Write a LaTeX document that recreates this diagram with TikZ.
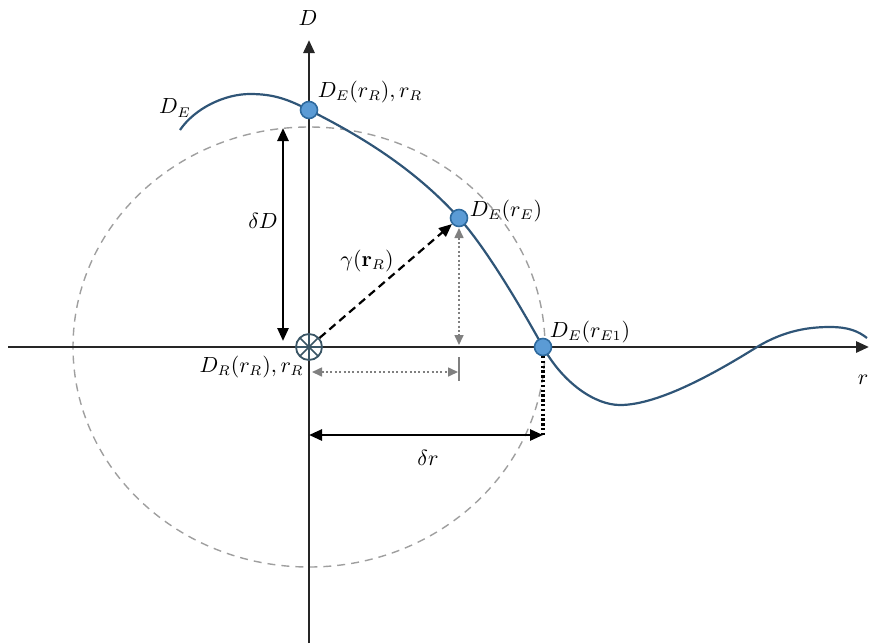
\documentclass[tikz,border=0pt]{standalone}
\usetikzlibrary{arrows.meta}
\definecolor{curveblue}{HTML}{2F5577}
\definecolor{dotblue}{HTML}{5B9BD5}
\definecolor{dotedge}{HTML}{2E6A9E}
\definecolor{spokecol}{HTML}{3A5565}
\begin{document}
\begin{tikzpicture}[x=0.5pt,y=-0.5pt,
  tip/.tip={Triangle[length=6.5pt,width=5.5pt]},
  axis/.style={line width=1.4pt,draw=black!85,-tip},
  curve/.style={line width=1.1pt,draw=curveblue},
  dot/.style={circle,fill=dotblue,draw=dotedge,line width=0.8pt,minimum size=8.5pt,inner sep=0pt},
  crossmark/.style={circle,draw=spokecol,fill=white,line width=0.9pt,minimum size=13pt,inner sep=0pt},
  spoke/.style={draw=spokecol,line width=0.8pt},
  lbl/.style={inner sep=1pt,font=\fontsize{10.5}{12}\selectfont},
  dimarrow/.style={line width=1.3pt,draw=black,tip-tip},
  grayarrow/.style={line width=0.8pt,draw=gray,dash pattern=on 1pt off 1.2pt,
     {Triangle[length=5pt,width=4.5pt,fill=gray]}-{Triangle[length=5pt,width=4.5pt,fill=gray]}},
  ring/.style={draw=gray!75,line width=0.7pt,dash pattern=on 4pt off 3pt},
  vecarrow/.style={line width=1.1pt,draw=black,dash pattern=on 4pt off 2.5pt,-tip},
  blackdots/.style={line width=1.6pt,draw=black,dash pattern=on 1.2pt off 1.2pt}
]
\useasboundingbox (0,0) rectangle (871,643);

% reference points
\coordinate (C) at (309,347);
\coordinate (xs) at (8,347);
\coordinate (xe) at (869,347);
\coordinate (ys) at (309,643);
\coordinate (ye) at (309,40);

% dashed ellipse
\path[ring] (C) ellipse [x radius=236, y radius=220];

% axes
\draw[axis] (xs) -- (xe);
\draw[axis] (ys) -- (ye);

% curve D_E
\draw[curve] (180,130) .. controls (195,108) and (225,94) .. (250,94)
  .. controls (275,94) and (289,100) .. (309,110)
  .. controls (359,135) and (414,168) .. (459,218)
  .. controls (487,249) and (523,311) .. (543,347)
  .. controls (563,383) and (595,405) .. (620,405)
  .. controls (660,405) and (720,370) .. (757,347)
  .. controls (785,330) and (810,327) .. (830,327)
  .. controls (848,327) and (858,331) .. (867,338);

% points
\node[dot] (pR) at (309,110) {};
\node[dot] (pE) at (459,218) {};
\node[dot] (pE1) at (543,347) {};
\node[crossmark] (O) at (C) {};
\foreach \a in {0,45,90,135}
  \draw[spoke] (O.center) ++(\a:6.5pt) -- ++(\a+180:13pt);

% delta D arrow
\coordinate (dDt) at (283,128);
\coordinate (dDb) at (283,341);
\draw[dimarrow] (dDt) -- (dDb);

% gamma vector
\draw[vecarrow] (O) -- (pE);

% gray dotted arrows
\coordinate (gvt) at (459,228);
\coordinate (gvb) at (459,345);
\draw[grayarrow] (gvt) -- (gvb);
\coordinate (ghl) at (312,372);
\coordinate (ghr) at (458,372);
\draw[grayarrow] (ghl) -- (ghr);
\coordinate (bart) at (459,357);
\coordinate (barb) at (459,381);
\draw[line width=1.2pt,draw=gray] (bart) -- (barb);

% delta r arrow and dotted drop
\coordinate (drl) at (309,435);
\coordinate (drr) at (543,435);
\draw[dimarrow] (drl) -- (drr);
\coordinate (bdt) at (543,356);
\draw[blackdots] (bdt) -- (drr);

% labels
\node[lbl] (lD) at (308,18) {$D$};
\node[lbl] (lDE) at (175,108) {$D_E$};
\node[lbl] (lpR) at (370,92) {$D_E(r_R), r_R$};
\node[lbl] (lpE) at (506,211) {$D_E(r_E)$};
\node[lbl] (lpE1) at (590,332) {$D_E(r_{E1})$};
\node[lbl] (ldD) at (263,221) {$\delta D$};
\node[lbl] (lg) at (367,261) {$\gamma(\mathbf{r}_R)$};
\node[lbl,anchor=east] (lO) at (306,367) {$D_R(r_R), r_R$};
\node[lbl] (ldr) at (428,458) {$\delta r$};
\node[lbl] (lr) at (863,380) {$r$};
\end{tikzpicture}
\end{document}
